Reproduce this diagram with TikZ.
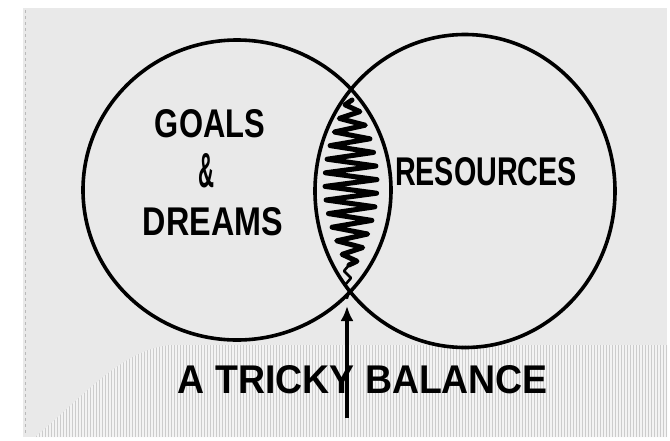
\documentclass[tikz,border=0pt]{standalone}
\usepackage{fontspec}
\setmainfont{Liberation Sans}
\usetikzlibrary{shapes.geometric,arrows.meta}
\definecolor{napkin}{HTML}{E9E9E9}
\definecolor{fringe}{HTML}{F3F3F3}
\tikzset{
    ring/.style={draw=black, line width=3.6pt, ellipse, inner sep=0pt},
    word/.style={inner sep=0pt, text=black, font=\bfseries},
}
\newcommand{\handword}[3]{\resizebox{#1pt}{#2pt}{#3}}

\begin{document}
\begin{tikzpicture}[x=1pt,y=-1pt]
    \useasboundingbox (0,0) rectangle (670,440);
    \fill[white] (0,0) rectangle (670,440);
    \fill[napkin] (23,8) rectangle (667,437);
    \begin{scope}
        \clip (35,437) .. controls (80,400) and (120,350) .. (170,345) -- (667,345) -- (667,437) -- cycle;
        \fill[fringe] (0,340) rectangle (670,440);
        \foreach \x in {24,27,...,666}
            \draw[gray!40, line width=0.7pt] (\x,340) -- (\x,437);
    \end{scope}
    \draw[gray!55, dashed, line width=0.8pt] (25,10) -- (25,435);
    \node[ring, minimum width=308pt, minimum height=300pt] (goals) at (237,190) {};
    \node[ring, minimum width=300pt, minimum height=313pt] (resources) at (465,191) {};
    \draw[black, line width=5pt, line join=round, line cap=round] (352,100)
        \foreach \i in {1,...,24} { -- ({351+cos(180*\i)*26*sin(180*(\i+1)/27)}, {98+\i*6.8}) }
        -- (349,265);
    \draw[black, line width=2.6pt, line join=round, line cap=round] (349,265)
        -- (344,271) -- (351,278) -- (345,285) -- (349,291) -- (347,298);
    \node[word] (goalstxt) at (210,124) {\handword{110}{28}{GOALS}};
    \node[word] (amp) at (206,171) {\handword{16}{34}{\&}};
    \node[word] (dreamstxt) at (213,222) {\handword{140}{28}{DREAMS}};
    \node[word] (restxt) at (486,172) {\handword{182}{28}{RESOURCES}};
    \node[word] (balance) at (363,380) {\handword{370}{28}{A TRICKY BALANCE}};
    \coordinate (pinch) at (347,306);
    \coordinate (tail) at (347,418);
    \draw[black, line width=3.4pt, -{Latex[length=15pt,width=13pt]}] (tail) -- (pinch);
\end{tikzpicture}
\end{document}
